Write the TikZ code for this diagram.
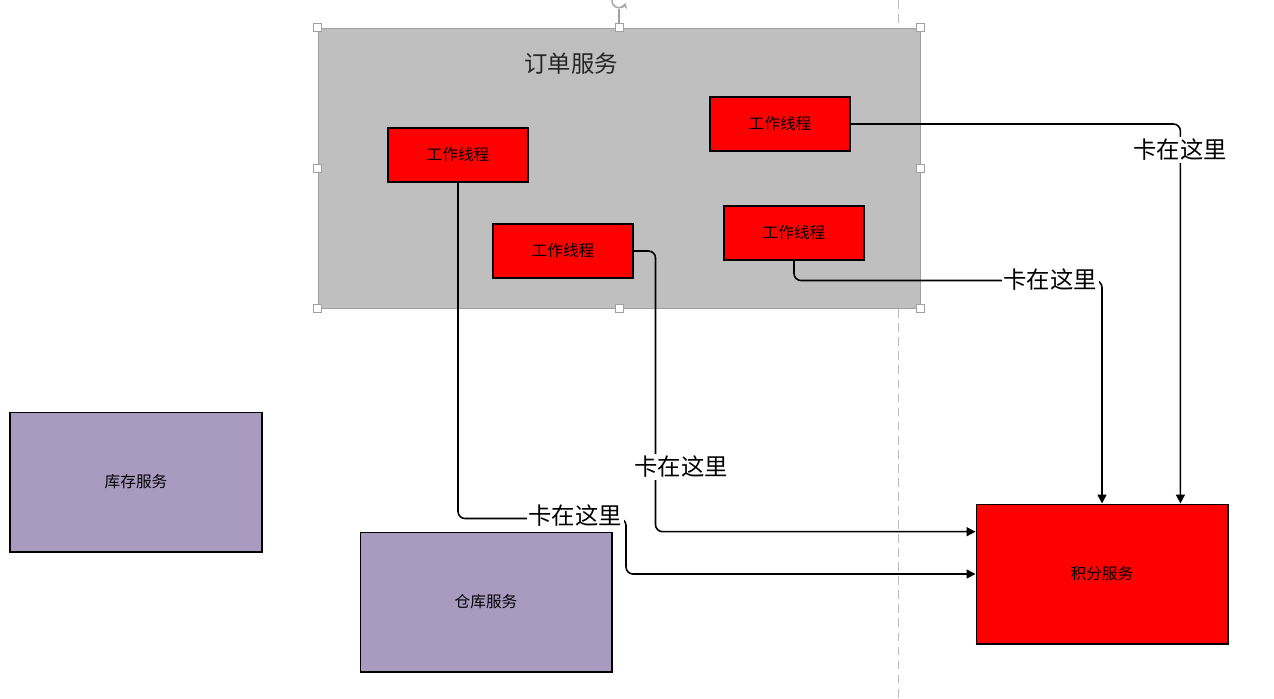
\documentclass[tikz,border=0pt]{standalone}
\usepackage{fontspec}
\setmainfont{Noto Sans CJK SC}
\usetikzlibrary{arrows.meta,calc}

\definecolor{gris}{RGB}{191,191,191}
\definecolor{borde}{RGB}{160,160,160}
\definecolor{lila}{RGB}{169,154,192}

\tikzset{
	hilo/.style={draw, fill=red, line width=0.6pt, minimum width=2.8cm, minimum height=1.08cm, inner sep=0pt, font=\fontsize{8.9}{10}\selectfont},
	servicio/.style={draw, line width=0.6pt, minimum width=5.04cm, minimum height=2.8cm, inner sep=0pt, font=\fontsize{8.9}{10}\selectfont},
	flecha/.style={line width=0.9pt, rounded corners=4pt, -{Triangle[length=5pt,width=5pt]}},
	etiqueta/.style={fill=white, inner sep=1pt, font=\fontsize{13.3}{14}\selectfont},
	asa/.style={draw=borde, fill=white, line width=0.5pt, minimum size=0.16cm, inner sep=0pt}
}

\begin{document}
\begin{tikzpicture}[x=0.02cm, y=-0.02cm]
\useasboundingbox (0,0) rectangle (1274,698);

% Guia
\draw[borde!70, dash pattern=on 5pt off 3pt] (898,0) -- (898,698);

% Servicio de pedidos
\node[draw=borde, fill=gris, minimum width=12.04cm, minimum height=5.6cm, inner sep=0pt] (O) at (619,168) {};
\node[font=\fontsize{13.3}{14}\selectfont, text=black!85] (T) at (571,64) {订单服务};

	\draw[borde, line width=0.6pt] (O.north) -- ++(0,-19);
	\draw[borde!90, line width=0.9pt, -{Stealth[length=3pt,width=4pt]}] ($(O.north)+(0,-34)$) arc[start angle=90, end angle=340, radius=4pt];

	\foreach \a [count=\i] in {north west, north, north east, west, east, south west, south, south east}
		\node[asa] (a\i) at (O.\a) {};

% Hilos
\node[hilo] (w1) at (458,155) {工作线程};
\node[hilo] (w2) at (780,124) {工作线程};
\node[hilo] (w3) at (563,251) {工作线程};
\node[hilo] (w4) at (794,233) {工作线程};

% Otros servicios
\node[servicio, fill=lila] (K) at (136,482) {库存服务};
\node[servicio, fill=lila] (C) at (486,602) {仓库服务};
\node[servicio, fill=red] (J) at (1102,574) {积分服务};

% Llamadas
\draw[flecha] (w1.south) -- ++(0,336) -- ++(168,0) |- (J.west);
\draw[flecha] (w3.east) -- ++(22,0) |- ($(J.north west)!0.2!(J.south west)$);
\draw[flecha] (w4.south) -- ++(0,20) -| (J.north);
\draw[flecha] (w2.east) -| ($(J.north west)!0.81!(J.north east)$);

\node[etiqueta] (e1) at (575,516) {卡在这里};
\node[etiqueta] (e2) at (681,467) {卡在这里};
\node[etiqueta] (e3) at (1050,280) {卡在这里};
\node[etiqueta] (e4) at (1180,150) {卡在这里};
\end{tikzpicture}
\end{document}
